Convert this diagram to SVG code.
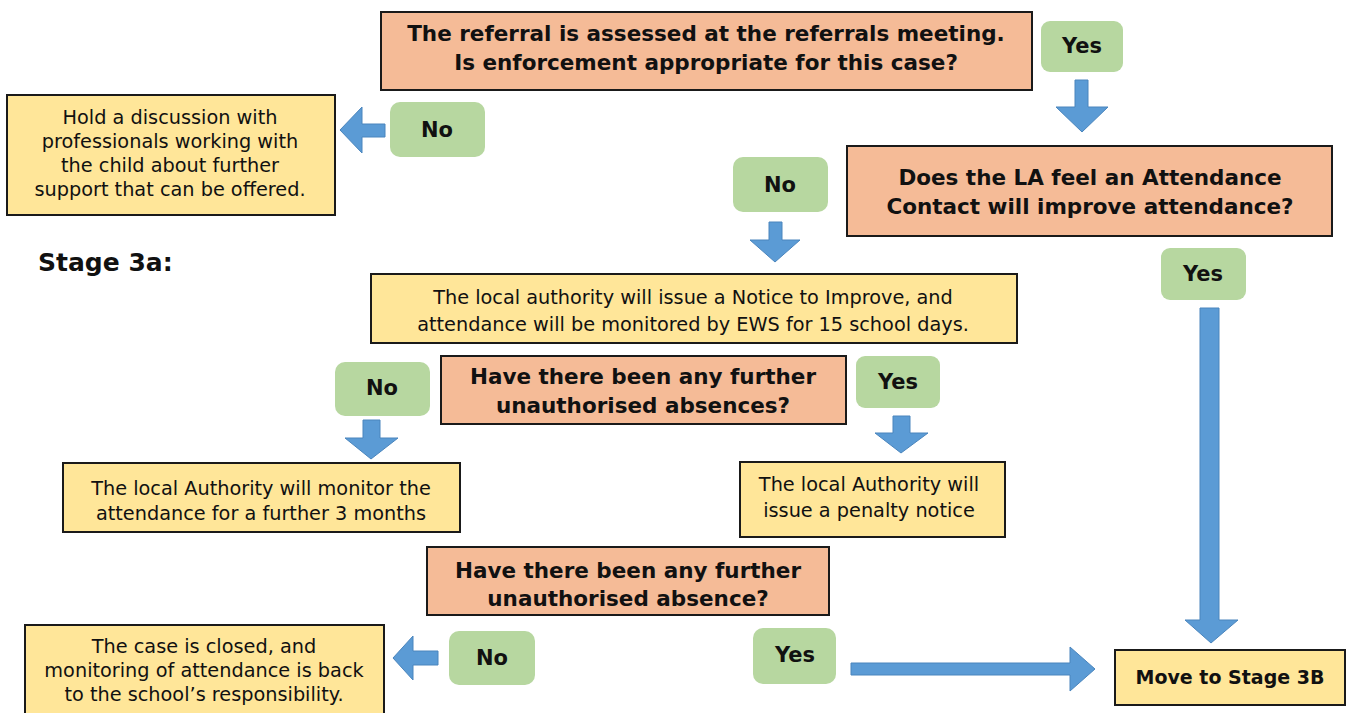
<svg xmlns="http://www.w3.org/2000/svg" width="1350" height="713" viewBox="0 0 1350 713">
<style>
.q{fill:#F5BB97;stroke:#1a1a1a;stroke-width:2}
.y{fill:#FFE699;stroke:#1a1a1a;stroke-width:2}
.g{fill:#B7D7A0}
.arr{fill:#5B9BD5;stroke:#4A85BD;stroke-width:1}
text{font-family:"DejaVu Sans",sans-serif;fill:#111;text-anchor:middle;dominant-baseline:central}
.b{font-weight:bold;font-size:21.5px}
.n{font-size:19.3px}
.s{font-weight:bold;font-size:21px}
</style>
<rect width="1350" height="713" fill="#fff"/>
<g id="connectors">
<polygon class="arr" points="1075,80 1088,80 1088,107 1108,107 1082,132 1056,107 1075,107"/>
<polygon class="arr" points="385,124 362,124 362,107 340,130 362,153 362,137 385,137"/>
<polygon class="arr" points="769,222 782,222 782,240 800,240 775,262 750,240 769,240"/>
<polygon class="arr" points="1200,308 1219,308 1219,620 1238,620 1211,643 1185,620 1200,620"/>
<polygon class="arr" points="363,420 380,420 380,438 398,438 371,459 345,438 363,438"/>
<polygon class="arr" points="893,416 910,416 910,433 928,433 901,453 875,433 893,433"/>
<polygon class="arr" points="438,651 413,651 413,636 393,658 413,680 413,665 438,665"/>
<polygon class="arr" points="851,663 1070,663 1070,647 1095,669 1070,691 1070,675 851,675"/>
</g>
<g id="q1"><rect class="q" x="381" y="12" width="651" height="78"/>
<text class="b" x="706" y="33">The referral is assessed at the referrals meeting.</text>
<text class="b" x="706" y="62">Is enforcement appropriate for this case?</text></g>
<g id="yes1"><rect class="g" x="1041" y="21" width="82" height="51" rx="9"/><text class="s" x="1082" y="46">Yes</text></g>
<g id="discuss"><rect class="y" x="7" y="95" width="328" height="120"/>
<text class="n" x="170" y="117">Hold a discussion with</text>
<text class="n" x="170" y="141">professionals working with</text>
<text class="n" x="170" y="165">the child about further</text>
<text class="n" x="170" y="189">support that can be offered.</text></g>
<g id="no1"><rect class="g" x="390" y="102" width="95" height="55" rx="10"/><text class="s" x="437" y="130">No</text></g>
<g id="q2"><rect class="q" x="847" y="146" width="485" height="90"/>
<text class="b" x="1090" y="177">Does the LA feel an Attendance</text>
<text class="b" x="1090" y="206">Contact will improve attendance?</text></g>
<g id="no2"><rect class="g" x="733" y="157" width="95" height="55" rx="10"/><text class="s" x="780" y="185">No</text></g>
<g id="stage"><text class="b" x="38" y="262" style="font-size:25px;text-anchor:start">Stage 3a:</text></g>
<g id="yes2"><rect class="g" x="1161" y="248" width="85" height="52" rx="9"/><text class="s" x="1203" y="274">Yes</text></g>
<g id="notice"><rect class="y" x="371" y="274" width="646" height="69"/>
<text class="n" x="693" y="297">The local authority will issue a Notice to Improve, and</text>
<text class="n" x="693" y="324">attendance will be monitored by EWS for 15 school days.</text></g>
<g id="no3"><rect class="g" x="335" y="362" width="95" height="54" rx="10"/><text class="s" x="382" y="388">No</text></g>
<g id="q3"><rect class="q" x="441" y="356" width="405" height="68"/>
<text class="b" x="643" y="376">Have there been any further</text>
<text class="b" x="643" y="405">unauthorised absences?</text></g>
<g id="yes3"><rect class="g" x="856" y="356" width="84" height="52" rx="9"/><text class="s" x="898" y="382">Yes</text></g>
<g id="monitor"><rect class="y" x="63" y="463" width="397" height="69"/>
<text class="n" x="261" y="488">The local Authority will monitor the</text>
<text class="n" x="261" y="513">attendance for a further 3 months</text></g>
<g id="penalty"><rect class="y" x="740" y="462" width="265" height="75"/>
<text class="n" x="869" y="484">The local Authority will</text>
<text class="n" x="869" y="510">issue a penalty notice</text></g>
<g id="q4"><rect class="q" x="427" y="547" width="402" height="68"/>
<text class="b" x="628" y="570">Have there been any further</text>
<text class="b" x="628" y="598">unauthorised absence?</text></g>
<g id="closed"><rect class="y" x="25" y="625" width="359" height="92"/>
<text class="n" x="204" y="646">The case is closed, and</text>
<text class="n" x="204" y="670">monitoring of attendance is back</text>
<text class="n" x="204" y="694">to the school’s responsibility.</text></g>
<g id="no4"><rect class="g" x="449" y="631" width="86" height="54" rx="10"/><text class="s" x="492" y="658">No</text></g>
<g id="yes4"><rect class="g" x="753" y="628" width="83" height="56" rx="10"/><text class="s" x="795" y="655">Yes</text></g>
<g id="stage3b"><rect class="y" x="1115" y="650" width="230" height="55"/>
<text class="s" x="1230" y="677" style="font-size:19px">Move to Stage 3B</text></g>
</svg>
